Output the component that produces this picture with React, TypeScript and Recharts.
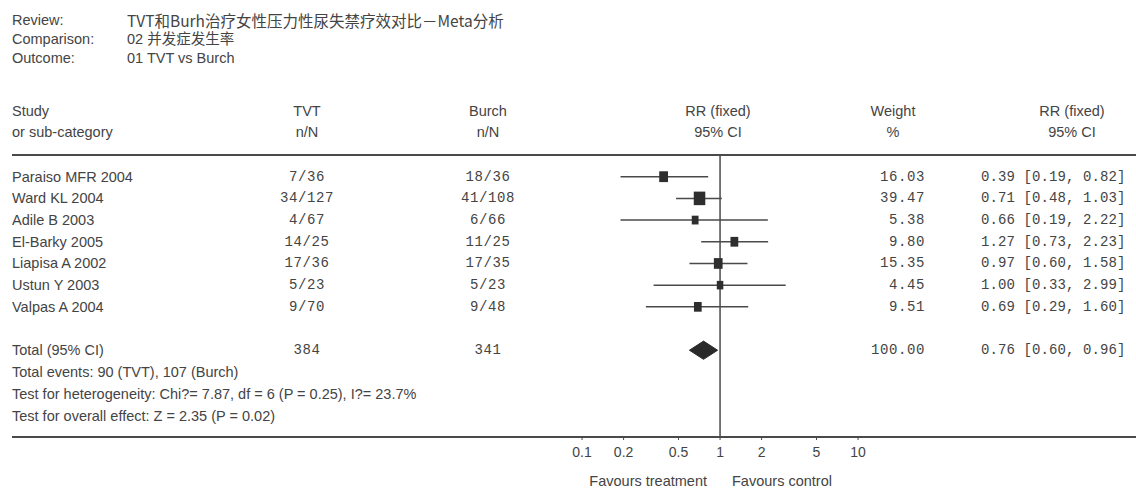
import React from "react";
import { ComposedChart, XAxis, YAxis, Scatter, ReferenceLine, ReferenceArea } from "recharts";

const STUDIES = ["Paraiso MFR 2004", "Ward KL 2004", "Adile B 2003", "El-Barky 2005", "Liapisa A 2002", "Ustun Y 2003", "Valpas A 2004"];
const TVT_NN = ["7/36", "34/127", "4/67", "14/25", "17/36", "5/23", "9/70"];
const BURCH_NN = ["18/36", "41/108", "6/66", "11/25", "17/35", "5/23", "9/48"];
const WEIGHTS = [16.03, 39.47, 5.38, 9.8, 15.35, 4.45, 9.51];
const RR = [0.39, 0.71, 0.66, 1.27, 0.97, 1.0, 0.69];
const RR_LO = [0.19, 0.48, 0.19, 0.73, 0.6, 0.33, 0.29];
const RR_HI = [0.82, 1.03, 2.22, 2.23, 1.58, 2.99, 1.6];

// pooled estimate
const TOTAL_N = [384, 341];
const TOTAL_RR = [0.76, 0.6, 0.96];
const TOTAL_WEIGHT = 100;

const TICKS = [0.1, 0.2, 0.5, 1, 2, 5, 10];

const SANS = "'Liberation Sans', Arial, sans-serif";
const MONO = "'Liberation Mono', 'Courier New', monospace";
const TXT = "#444";
const LINE = "#4a4a4a";

const fmt = (v: number) => v.toFixed(2);

const rows = STUDIES.map((s, i) => ({
  row: i,
  study: s,
  tvt: TVT_NN[i],
  burch: BURCH_NN[i],
  w: WEIGHTS[i],
  rr: RR[i],
  lo: RR_LO[i],
  hi: RR_HI[i],
}));

const totalRow = [{
  row: 8,
  study: "Total (95% CI)",
  tvt: String(TOTAL_N[0]),
  burch: String(TOTAL_N[1]),
  w: TOTAL_WEIGHT,
  rr: TOTAL_RR[0],
  lo: TOTAL_RR[1],
  hi: TOTAL_RR[2],
  total: true,
}];

const RowShape = (props: any) => {
  const { cx, cy, payload } = props;
  const mono = { fontFamily: MONO, fontSize: 14, fill: TXT, letterSpacing: 0.6 };
  const sz = 4 + 1.2 * Math.sqrt(payload.w);
  return (
    <g>
      <text x={12} y={cy} dominantBaseline="central" fontFamily={SANS} fontSize={14.5} fill={TXT}>{payload.study}</text>
      <text x={307} y={cy} dominantBaseline="central" textAnchor="middle" {...mono}>{payload.tvt}</text>
      <text x={488} y={cy} dominantBaseline="central" textAnchor="middle" {...mono}>{payload.burch}</text>
      <text x={925} y={cy} dominantBaseline="central" textAnchor="end" {...mono}>{payload.w.toFixed(2)}</text>
      <text x={981} y={cy} dominantBaseline="central" {...mono} letterSpacing={0.1}>
        {`${fmt(payload.rr)} [${fmt(payload.lo)}, ${fmt(payload.hi)}]`}
      </text>
      {!payload.total && (
        <rect x={cx - sz / 2} y={cy - sz / 2 - 1} width={sz} height={sz + 2} fill="#2e2e2e" />
      )}
    </g>
  );
};

const Diamond = (props: any) => {
  const { x, y, width, height } = props;
  const mx = x + width / 2;
  const my = y + height / 2;
  return (
    <polygon
      points={`${x},${my} ${mx},${y} ${x + width},${my} ${mx},${y + height}`}
      fill="#2a2a2a"
      stroke="#2a2a2a"
    />
  );
};

const Label = ({ x, y, anchor = "start", children, size = 14.5, font = SANS }: any) => (
  <text x={x} y={y} textAnchor={anchor} dominantBaseline="central" fontFamily={font} fontSize={size} fill={TXT}>
    {children}
  </text>
);

export default function App() {
  return (
    <div style={{ position: "absolute", left: 0, top: 0, width: 1136, height: 489, overflow: "hidden", background: "#fff" }}>
      <ComposedChart width={1136} height={489} margin={{ top: 155, right: 0, bottom: 22, left: 12 }}>
        <XAxis
          type="number"
          dataKey="rr"
          scale="log"
          domain={[7.4e-6, 1033]}
          allowDataOverflow
          ticks={TICKS}
          interval={0}
          height={30}
          tickSize={3}
          tickMargin={7}
          tickFormatter={(v: number) => String(v)}
          tick={{ fontSize: 14, fill: TXT, fontFamily: SANS }}
          axisLine={{ stroke: LINE, strokeWidth: 2 }}
          tickLine={{ stroke: LINE }}
        />
        <YAxis type="number" dataKey="row" domain={[-1, 12]} reversed hide allowDataOverflow />
        <ReferenceLine y={-1} stroke={LINE} strokeWidth={2} />
        <ReferenceLine x={1} stroke={LINE} strokeWidth={1.5} />
        {rows.map((r) => (
          <ReferenceLine
            key={r.study}
            segment={[{ x: r.lo, y: r.row }, { x: r.hi, y: r.row }]}
            stroke={LINE}
            strokeWidth={1.5}
            ifOverflow="visible"
          />
        ))}
        <ReferenceArea
          x1={TOTAL_RR[1]}
          x2={TOTAL_RR[2]}
          y1={8 - 0.42}
          y2={8 + 0.42}
          ifOverflow="visible"
          shape={<Diamond />}
        />
        <Scatter data={rows} shape={<RowShape />} isAnimationActive={false} />
        <Scatter data={totalRow} shape={<RowShape />} isAnimationActive={false} />
      </ComposedChart>

      <svg width={1136} height={489} style={{ position: "absolute", left: 0, top: 0, pointerEvents: "none" }}>
        <Label x={12} y={20}>Review:</Label>
        <Label x={12} y={39}>Comparison:</Label>
        <Label x={12} y={58}>Outcome:</Label>
        <Label x={127} y={20} font="'Noto Sans CJK SC', 'Liberation Sans', sans-serif" size={15.5}>TVT和Burh治疗女性压力性尿失禁疗效对比－Meta分析</Label>
        <Label x={127} y={39} font="'Liberation Sans', 'Noto Sans CJK SC', sans-serif">02 并发症发生率</Label>
        <Label x={127} y={58}>01 TVT vs Burch</Label>

        <Label x={12} y={111}>Study</Label>
        <Label x={12} y={132}>or sub-category</Label>
        <Label x={307} y={111} anchor="middle">TVT</Label>
        <Label x={307} y={132} anchor="middle">n/N</Label>
        <Label x={488} y={111} anchor="middle">Burch</Label>
        <Label x={488} y={132} anchor="middle">n/N</Label>
        <Label x={718} y={111} anchor="middle">RR (fixed)</Label>
        <Label x={718} y={132} anchor="middle">95% CI</Label>
        <Label x={893} y={111} anchor="middle">Weight</Label>
        <Label x={893} y={132} anchor="middle">%</Label>
        <Label x={1072} y={111} anchor="middle">RR (fixed)</Label>
        <Label x={1072} y={132} anchor="middle">95% CI</Label>

        <Label x={12} y={372}>Total events: 90 (TVT), 107 (Burch)</Label>
        <Label x={12} y={394}>Test for heterogeneity: Chi?= 7.87, df = 6 (P = 0.25), I?= 23.7%</Label>
        <Label x={12} y={416}>Test for overall effect: Z = 2.35 (P = 0.02)</Label>

        <Label x={707} y={481} anchor="end">Favours treatment</Label>
        <Label x={732} y={481}>Favours control</Label>
      </svg>
    </div>
  );
}
